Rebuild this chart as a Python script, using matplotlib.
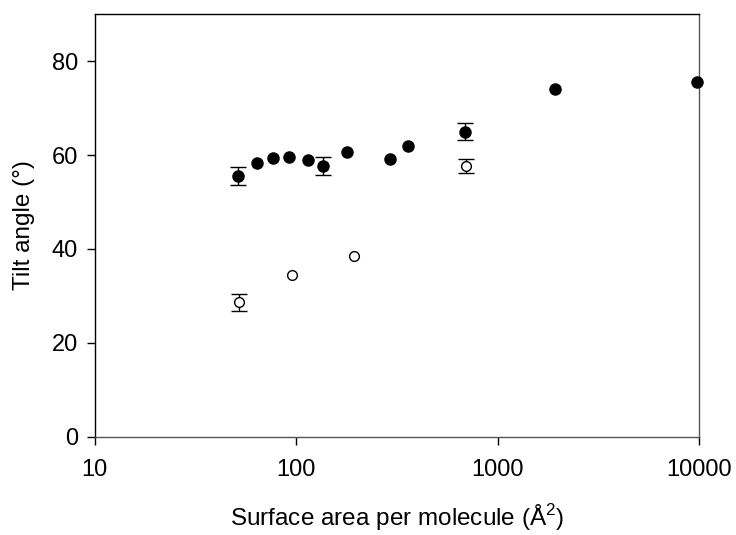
import matplotlib
matplotlib.use("Agg")
import matplotlib.pyplot as plt
import numpy as np

plt.rcParams['font.family'] = ['Liberation Sans', 'DejaVu Sans']
plt.rcParams['mathtext.fontset'] = 'custom'
plt.rcParams['mathtext.rm'] = 'Liberation Sans'

# filled circles
area_filled = np.array([51.4, 64, 76.5, 91.8, 114.6, 136, 178, 292, 358, 693, 1930, 9750])
tilt_filled = np.array([55.5, 58.4, 59.3, 59.6, 58.9, 57.6, 60.7, 59.1, 61.9, 65.0, 74.1, 75.5])
err_filled = np.array([1.9, 0, 0, 0, 0, 1.9, 0, 0, 0, 1.85, 0, 0])

# open circles
area_open = np.array([51.8, 95.5, 194.5, 700])
tilt_open = np.array([28.6, 34.5, 38.6, 57.7])
err_open = np.array([1.9, 0, 0, 1.5])

fig = plt.figure(figsize=(7.36, 5.35), dpi=100)
ax = fig.add_axes([0.1287, 0.1837, 0.821, 0.7896])

# error bars only where there is one
m = err_filled > 0
ax.errorbar(area_filled[m], tilt_filled[m], yerr=err_filled[m], fmt='none',
            ecolor='black', capsize=6, elinewidth=1, capthick=1)
m = err_open > 0
ax.errorbar(area_open[m], tilt_open[m], yerr=err_open[m], fmt='none',
            ecolor='black', capsize=6, elinewidth=1, capthick=1)

ax.plot(area_filled, tilt_filled, 'o', color='black', markersize=8, clip_on=False, zorder=3)
ax.plot(area_open, tilt_open, 'o', mfc='white', mec='black', markersize=7, mew=1,
        clip_on=False, zorder=3)

ax.set_xscale('log')
ax.set_xlim(10, 10000)
ax.set_ylim(0, 90)
ax.set_xticks([10, 100, 1000, 10000])
ax.set_xticklabels(['10', '100', '1000', '10000'])
ax.minorticks_off()
ax.set_yticks([0, 20, 40, 60, 80])

ax.tick_params(direction='out', length=6, width=1, labelsize=17, pad=6)
ax.tick_params(axis='x', pad=10)
for s in ax.spines.values():
    s.set_linewidth(1)
ax.spines['bottom'].set_color('#555555')
ax.spines['right'].set_color('#555555')

ax.set_xlabel('Surface area per molecule (Å$^{\\mathregular{2}}$)', fontsize=17.5, labelpad=15)
ax.set_ylabel('Tilt angle (°)', fontsize=17.5, labelpad=12)

plt.savefig('out.png', dpi=100)
